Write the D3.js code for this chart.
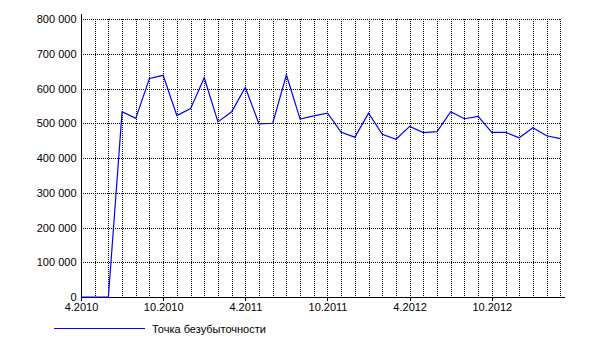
<!DOCTYPE html>
<html>
    <head>
        <meta charset="utf-8">
        <style>
            body { margin: 0; background: #fff; }
            svg { display: block; font-family: "Liberation Sans", Arial, sans-serif; }
            .grid line { stroke: #000; stroke-dasharray: 1,1; shape-rendering: crispEdges; }
            .axis text { font-size: 11px; fill: #000; }
            .axis path, .axis line { stroke: #000; shape-rendering: crispEdges; }
        </style>
    </head>
    <body>
        <svg width="600" height="359"></svg>
        <script src="https://d3js.org/d3.v7.min.js"></script>
        <script>

        // months 4.2010 .. 3.2013
        var months = ["4.2010","5.2010","6.2010","7.2010","8.2010","9.2010","10.2010","11.2010","12.2010",
            "1.2011","2.2011","3.2011","4.2011","5.2011","6.2011","7.2011","8.2011","9.2011","10.2011","11.2011","12.2011",
            "1.2012","2.2012","3.2012","4.2012","5.2012","6.2012","7.2012","8.2012","9.2012","10.2012","11.2012","12.2012",
            "1.2013","2.2013","3.2013"];
        var breakEven = [0, 0, 0, 533000, 514000, 629000, 638000, 522000, 542000,
            631000, 504000, 533000, 603000, 498000, 500000, 639000, 512000, 521000, 529000, 474000, 460000,
            529000, 468000, 454000, 491000, 473000, 476000, 533000, 513000, 520000, 474000, 474000, 458000,
            487000, 464000, 456000];
        var xTickLabels = ["4.2010","10.2010","4.2011","10.2011","4.2012","10.2012"];
        var yTicks = [0,100000,200000,300000,400000,500000,600000,700000,800000];
        var seriesName = "Точка безубыточности";

        var svg = d3.select("svg");
        var m = {left: 81, right: 560.3, top: 19, bottom: 297};

        var x = d3.scalePoint().domain(months).range([m.left, m.right]);
        var y = d3.scaleLinear().domain([0, 800000]).range([m.bottom, m.top]);

        var fmt = function(d) { return d3.format(",")(d).replace(/,/g, " "); };

        // horizontal grid
        svg.append("g").attr("class", "grid")
            .selectAll("line").data(yTicks.slice(1)).enter().append("line")
            .attr("x1", m.left).attr("x2", m.right)
            .attr("y1", d => Math.round(y(d)) + 0.5).attr("y2", d => Math.round(y(d)) + 0.5);

        // vertical grid
        svg.append("g").attr("class", "grid")
            .selectAll("line").data(months.slice(1)).enter().append("line")
            .attr("x1", d => Math.round(x(d)) + 0.5).attr("x2", d => Math.round(x(d)) + 0.5)
            .attr("y1", m.top).attr("y2", m.bottom);

        // y axis
        var yAxis = svg.append("g").attr("class", "axis")
            .attr("transform", "translate(" + (m.left + 0.5) + ",0)")
            .call(d3.axisLeft(y).tickValues(yTicks).tickFormat(fmt).tickSize(0).tickPadding(5));
        yAxis.select(".domain").attr("d", "M0," + (m.top - 5) + "V" + m.bottom);

        // x axis
        var xAxis = svg.append("g").attr("class", "axis")
            .attr("transform", "translate(0," + (m.bottom + 0.5) + ")")
            .call(d3.axisBottom(x).tickValues(xTickLabels).tickSize(3).tickPadding(3));
        xAxis.select(".domain").attr("d", "M" + m.left + ",0H565");

        // line
        var line = d3.line()
            .x((d, i) => x(months[i]))
            .y(d => y(d));
        svg.append("path")
            .datum(breakEven)
            .attr("fill", "none")
            .attr("stroke", "#0000ff")
            .attr("stroke-width", 1.2)
            .attr("d", line);

        // legend
        var legend = svg.append("g").attr("transform", "translate(54,328.5)");
        legend.append("line").attr("x1", 0).attr("x2", 91).attr("stroke", "#0000ff").attr("stroke-width", 1.2);
        legend.append("text").attr("x", 98).attr("y", 4)
            .style("font-size", "11px").text(seriesName);

        </script>
    </body>
</html>
